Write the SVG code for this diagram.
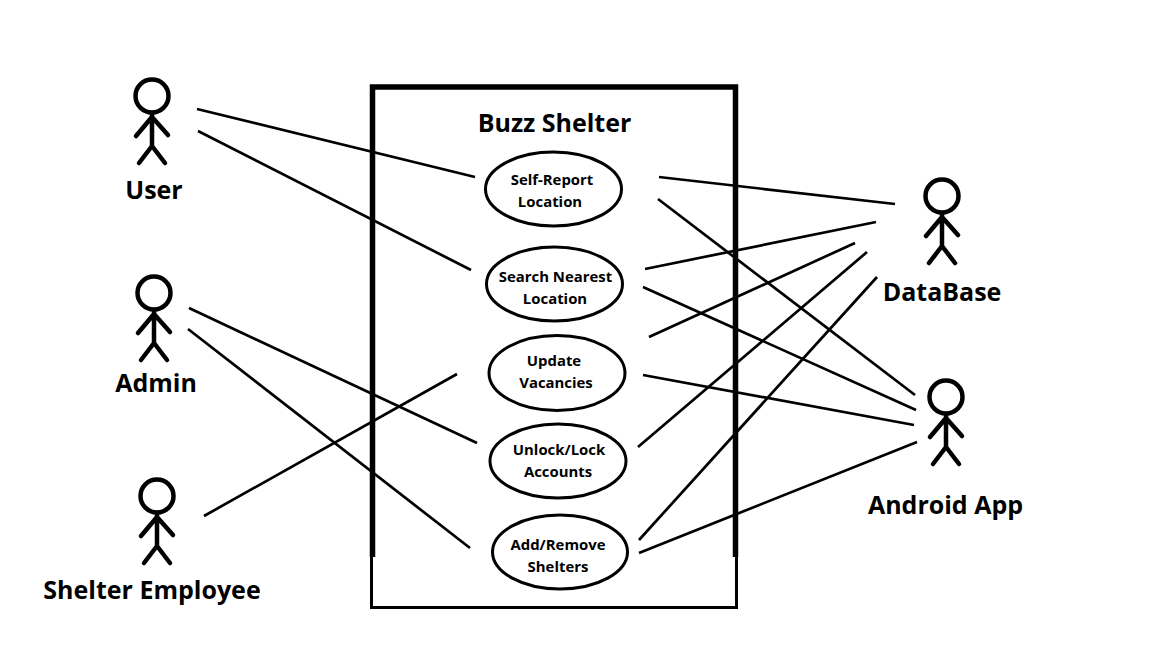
<svg xmlns="http://www.w3.org/2000/svg" width="1152" height="648" viewBox="0 0 1152 648">
<defs>
<g id="stick" fill="none" stroke="#000" stroke-width="4.5" stroke-linecap="round" stroke-linejoin="round">
<circle cx="0" cy="0" r="16.5"/>
<path d="M0 17V50M0 21L-16 40M0 21L16 39M0 50L-13 67M0 50L13 67"/>
</g>
</defs>
<style>
text{font-family:"Open Sans","Noto Sans","DejaVu Sans",sans-serif;font-weight:700;fill:#000;stroke:none;text-anchor:middle}
.a{font-size:25px}
.t{font-size:25px}
.u{font-size:14.9px}
.e{fill:#fff;stroke:#000;stroke-width:3}
.c line{stroke:#000;stroke-width:2.7}
</style>
<rect width="1152" height="648" fill="#fff"/>
<g id="system" fill="none" stroke="#000">
<path d="M372.5 557V87H735.5V557" stroke-width="5.5"/>
<path d="M371.5 555V607.5H736.5V555" stroke-width="3"/>
<text class="t" x="554.5" y="132">Buzz Shelter</text>
</g>
<g id="uc1"><ellipse class="e" cx="553.5" cy="189" rx="68" ry="37"/><text class="u" x="552" y="185">Self-Report</text><text class="u" x="550" y="207">Location</text></g>
<g id="uc2"><ellipse class="e" cx="554.5" cy="284" rx="68" ry="37"/><text class="u" x="555.5" y="282">Search Nearest</text><text class="u" x="555" y="304">Location</text></g>
<g id="uc3"><ellipse class="e" cx="557" cy="373" rx="68" ry="37.5"/><text class="u" x="554" y="366">Update</text><text class="u" x="556" y="388">Vacancies</text></g>
<g id="uc4"><ellipse class="e" cx="558" cy="461" rx="68" ry="37"/><text class="u" x="559" y="455">Unlock/Lock</text><text class="u" x="558" y="477">Accounts</text></g>
<g id="uc5"><ellipse class="e" cx="560" cy="552" rx="67.5" ry="37"/><text class="u" x="558" y="550">Add/Remove</text><text class="u" x="558" y="572">Shelters</text></g>
<g id="connectors" class="c">
<line x1="197" y1="109" x2="475" y2="177"/>
<line x1="198" y1="131" x2="471" y2="270"/>
<line x1="189" y1="308" x2="477" y2="443"/>
<line x1="188" y1="329" x2="470" y2="548"/>
<line x1="204" y1="516" x2="457" y2="374"/>
<line x1="659" y1="177" x2="895" y2="204"/>
<line x1="658" y1="199" x2="915" y2="395"/>
<line x1="645" y1="269" x2="876" y2="222"/>
<line x1="643" y1="287" x2="916" y2="410"/>
<line x1="649" y1="337" x2="855" y2="243"/>
<line x1="643" y1="375" x2="914" y2="425"/>
<line x1="638" y1="447" x2="867" y2="252"/>
<line x1="639" y1="540" x2="877" y2="277"/>
<line x1="639" y1="553" x2="917" y2="442"/>
</g>
<g id="user"><use href="#stick" x="152" y="96"/><text class="a" x="154" y="199">User</text></g>
<g id="admin"><use href="#stick" x="154" y="293"/><text class="a" x="156" y="392">Admin</text></g>
<g id="employee"><use href="#stick" x="157" y="496"/><text class="a" x="152" y="599">Shelter Employee</text></g>
<g id="database"><use href="#stick" x="942" y="196"/><text class="a" x="942" y="301">DataBase</text></g>
<g id="android"><use href="#stick" x="946" y="397"/><text class="a" x="945.500" y="514">Android App</text></g>
</svg>
